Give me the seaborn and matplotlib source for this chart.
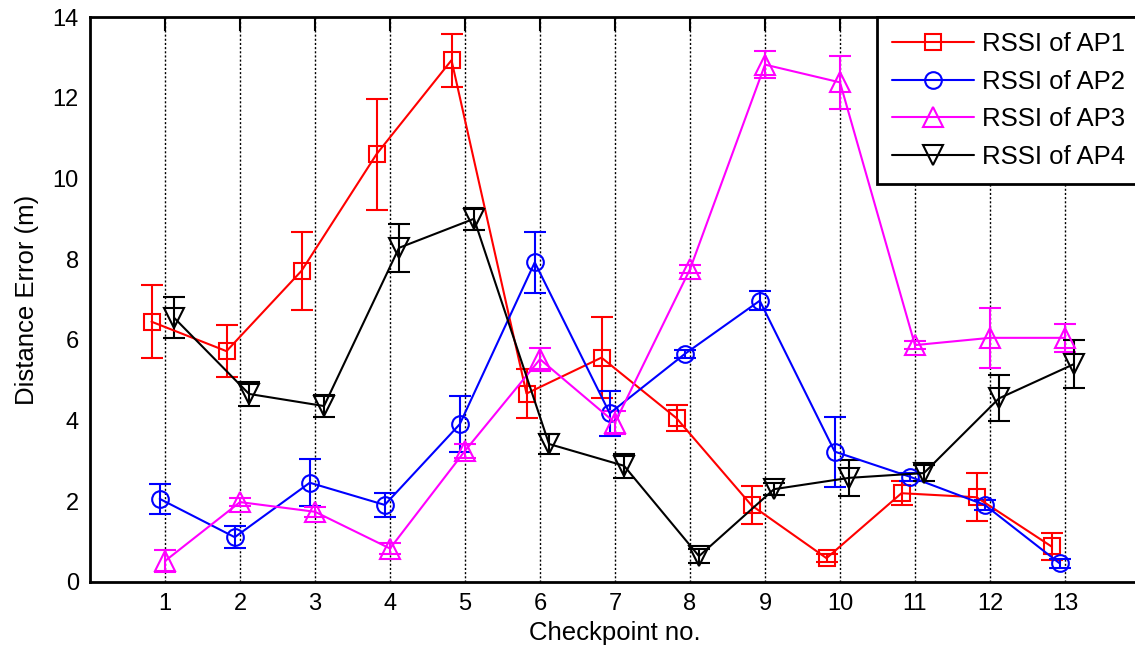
import numpy as np
import pandas as pd
import seaborn as sns
import matplotlib.pyplot as plt

checkpoints = list(range(1, 14))
labels = ['RSSI of AP1', 'RSSI of AP2', 'RSSI of AP3', 'RSSI of AP4']

ap1_mean = [6.45, 5.72, 7.71, 10.6, 12.93, 4.67, 5.56, 4.06, 1.9, 0.59, 2.2, 2.1, 0.88]
ap1_err = [0.9, 0.65, 0.96, 1.37, 0.66, 0.6, 1.0, 0.33, 0.47, 0.1, 0.3, 0.6, 0.33]

ap2_mean = [2.06, 1.11, 2.46, 1.91, 3.91, 7.92, 4.18, 5.65, 6.97, 3.23, 2.61, 1.91, 0.46]
ap2_err = [0.38, 0.27, 0.58, 0.3, 0.7, 0.75, 0.55, 0.1, 0.23, 0.87, 0.1, 0.12, 0.12]

ap3_mean = [0.52, 1.98, 1.74, 0.83, 3.25, 5.52, 3.95, 7.75, 12.82, 12.38, 5.87, 6.05, 6.05]
ap3_err = [0.28, 0.1, 0.12, 0.13, 0.18, 0.28, 0.28, 0.1, 0.33, 0.65, 0.1, 0.75, 0.34]

ap4_mean = [6.55, 4.66, 4.36, 8.28, 9.0, 3.42, 2.88, 0.64, 2.3, 2.58, 2.7, 4.55, 5.4]
ap4_err = [0.5, 0.3, 0.27, 0.6, 0.27, 0.25, 0.3, 0.18, 0.15, 0.45, 0.2, 0.57, 0.6]

means = [ap1_mean, ap2_mean, ap3_mean, ap4_mean]
errs = [ap1_err, ap2_err, ap3_err, ap4_err]
colors = ['#ff0000', '#0000ff', '#ff00ff', '#000000']
markers = ['s', 'o', '^', 'v']
msizes = [12, 12, 14, 14]
offsets = [-0.18, -0.07, 0.0, 0.12]

rows = []
for lab, m, e in zip(labels, means, errs):
    for c, v, d in zip(checkpoints, m, e):
        rows.append({'series': lab, 'checkpoint': c, 'error': v, 'std': d})
df = pd.DataFrame(rows)

sns.set_theme(style='white')
plt.rcParams['font.family'] = ['Liberation Sans', 'DejaVu Sans']
plt.rcParams['text.color'] = 'black'
plt.rcParams['axes.labelcolor'] = 'black'
plt.rcParams['xtick.color'] = 'black'
plt.rcParams['ytick.color'] = 'black'

fig = plt.figure(figsize=(11.35, 6.56), dpi=100)
ax = fig.add_axes([90 / 1135, 74 / 656, 1050 / 1135, 565 / 656])

for i, lab in enumerate(labels):
    sub = df[df['series'] == lab]
    xpos = sub['checkpoint'] + offsets[i]
    ax.errorbar(xpos, sub['error'], yerr=sub['std'], fmt='none', ecolor=colors[i],
                elinewidth=1.5, capsize=8, capthick=1.5, zorder=3)
    sns.lineplot(x=xpos, y=sub['error'], ax=ax, color=colors[i], marker=markers[i],
                 markersize=msizes[i], markerfacecolor='none', markeredgecolor=colors[i],
                 markeredgewidth=1.5, linewidth=1.5, label=lab, zorder=4)

ax.set_xlim(0, 14)
ax.set_ylim(0, 14)
ax.set_xticks(checkpoints)
ax.set_yticks(range(0, 15, 2))
ax.xaxis.grid(True, color='black', linestyle=(0, (1.5, 1.5)), linewidth=1)
ax.yaxis.grid(False)
ax.set_axisbelow(True)
ax.tick_params(direction='in', length=10, width=1.5, labelsize=17, colors='black',
               top=True, right=False, pad=8)
for s in ax.spines.values():
    s.set_linewidth(2)
    s.set_color('black')

ax.set_xlabel('Checkpoint no.', fontsize=18.5, labelpad=4)
ax.set_ylabel('Distance Error (m)', fontsize=18.5, labelpad=10)

leg = ax.legend(loc='upper right', borderaxespad=0, fontsize=18.5, frameon=True,
                fancybox=False, framealpha=1, edgecolor='black', handlelength=3.2,
                handletextpad=0.3, labelspacing=0.53, borderpad=0.58)
leg.get_frame().set_linewidth(2)
for t in leg.get_texts():
    t.set_color('black')

fig.savefig('out.png', dpi=100)
